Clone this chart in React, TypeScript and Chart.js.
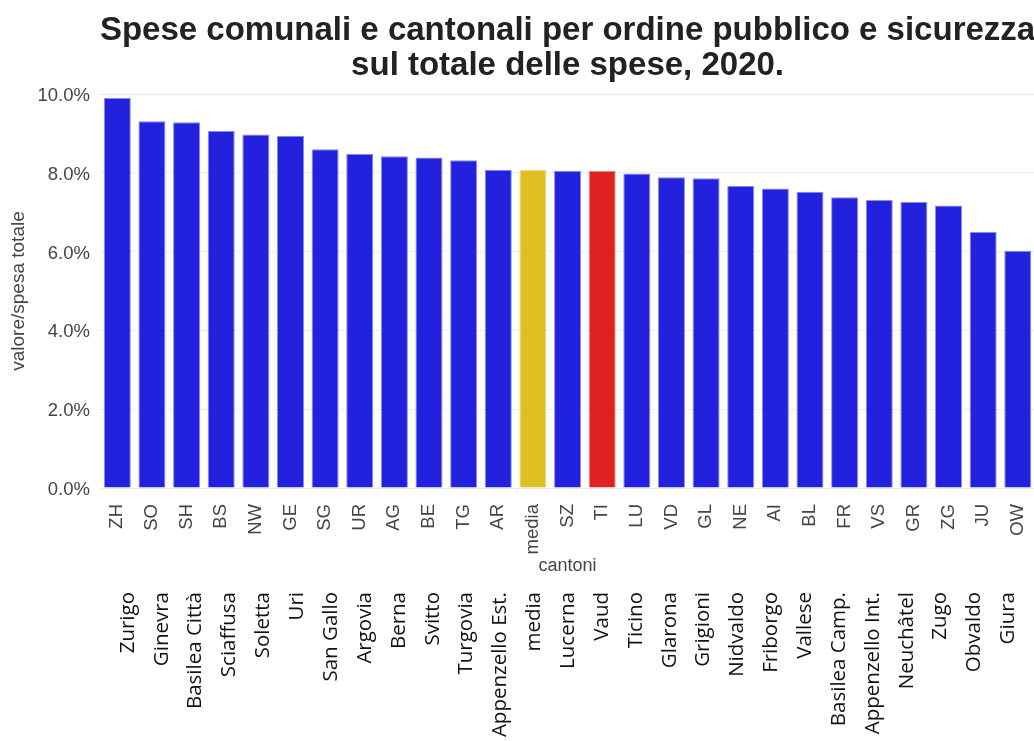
import React, { useEffect, useRef } from 'react';
import { Chart, registerables } from 'chart.js';

Chart.register(...registerables);

const titleLines = [
  'Spese comunali e cantonali per ordine pubblico e sicurezza',
  'sul totale delle spese, 2020.',
];

const codes = ['ZH', 'SO', 'SH', 'BS', 'NW', 'GE', 'SG', 'UR', 'AG', 'BE', 'TG', 'AR', 'media', 'SZ', 'TI', 'LU', 'VD', 'GL', 'NE', 'AI', 'BL', 'FR', 'VS', 'GR', 'ZG', 'JU', 'OW'];

const values = [9.90, 9.31, 9.28, 9.06, 8.97, 8.94, 8.60, 8.48, 8.42, 8.39, 8.32, 8.08, 8.07, 8.05, 8.05, 7.98, 7.89, 7.86, 7.67, 7.60, 7.52, 7.38, 7.31, 7.26, 7.17, 6.50, 6.02];

const fullNames = ['Zurigo', 'Ginevra', 'Basilea Città', 'Sciaffusa', 'Soletta', 'Uri', 'San Gallo', 'Argovia', 'Berna', 'Svitto', 'Turgovia', 'Appenzello Est.', 'media', 'Lucerna', 'Vaud', 'Ticino', 'Glarona', 'Grigioni', 'Nidvaldo', 'Friborgo', 'Vallese', 'Basilea Camp.', 'Appenzello Int.', 'Neuchâtel', 'Zugo', 'Obvaldo', 'Giura'];

const yTicks = [0, 2, 4, 6, 8, 10];

const xTitle = 'cantoni';
const yTitle = 'valore/spesa totale';

const BLUE = '#2121de';
const YELLOW = '#dfc021';
const RED = '#df2121';
const SANS = "'Liberation Sans', Arial, sans-serif";
const NAMES_FONT = "'Open Sans', 'Noto Sans', sans-serif";

const barColors = codes.map((c) => (c === 'media' ? YELLOW : c === 'TI' ? RED : BLUE));
const barBorders = codes.map((c) => (c === 'media' ? '#ecd98a' : c === 'TI' ? '#ec8a8a' : '#8a8aec'));

const centeredTitle = {
  id: 'centeredTitle',
  afterDraw(chart: any) {
    const { ctx, chartArea } = chart;
    const cx = (chartArea.left + chartArea.right) / 2;
    ctx.save();
    ctx.font = `bold 33px ${SANS}`;
    ctx.fillStyle = '#222';
    ctx.textAlign = 'center';
    ctx.textBaseline = 'alphabetic';
    titleLines.forEach((t, i) => ctx.fillText(t, cx, 40 + i * 35));
    ctx.restore();
  },
};

export default function App() {
  const mainRef = useRef<HTMLCanvasElement>(null);
  const namesRef = useRef<HTMLCanvasElement>(null);

  useEffect(() => {
    const main = new Chart(mainRef.current as HTMLCanvasElement, {
      type: 'bar',
      data: {
        labels: codes,
        datasets: [
          {
            data: values,
            backgroundColor: barColors,
            borderColor: barBorders,
            borderWidth: 1,
            barPercentage: 0.78,
            categoryPercentage: 1,
          },
        ],
      },
      options: {
        animation: false,
        responsive: false,
        maintainAspectRatio: false,
        layout: { padding: { top: 94, left: 0, right: 0, bottom: 0 } },
        plugins: {
          legend: { display: false },
          title: { display: false },
          tooltip: { enabled: false },
        },
        scales: {
          x: {
            offset: true,
            grid: { display: false },
            border: { display: false },
            ticks: {
              autoSkip: false,
              minRotation: 90,
              maxRotation: 90,
              color: '#444',
              padding: 8,
              font: { size: 18.5, family: SANS },
            },
            title: {
              display: true,
              text: xTitle,
              color: '#444',
              padding: { top: 0, bottom: 3 },
              font: { size: 18, family: SANS },
            },
            afterFit: (s: any) => {
              s.height = 92;
            },
          },
          y: {
            min: 0,
            max: 10,
            afterBuildTicks: (s: any) => {
              s.ticks = yTicks.map((v) => ({ value: v }));
            },
            ticks: {
              color: '#444',
              padding: 10,
              labelOffset: 2,
              font: { size: 18.5, family: SANS },
              callback: (v: any) => `${Number(v).toFixed(1)}%`,
            },
            grid: { color: '#ececec', drawTicks: false },
            border: { display: false },
            title: {
              display: true,
              text: yTitle,
              color: '#444',
              padding: { top: 7, bottom: 0 },
              font: { size: 19, family: SANS },
            },
            afterFit: (s: any) => {
              s.width = 100;
            },
          },
        },
      },
      plugins: [centeredTitle],
    });

    const names = new Chart(namesRef.current as HTMLCanvasElement, {
      type: 'bar',
      data: { labels: fullNames, datasets: [] },
      options: {
        animation: false,
        responsive: false,
        maintainAspectRatio: false,
        layout: { padding: { top: 0, left: 111, right: 4, bottom: 0 } },
        plugins: {
          legend: { display: false },
          title: { display: false },
          tooltip: { enabled: false },
        },
        scales: {
          x: {
            offset: true,
            grid: { display: false },
            border: { display: false },
            ticks: {
              autoSkip: false,
              minRotation: 90,
              maxRotation: 90,
              color: '#111',
              padding: 1,
              font: { size: 20.5, family: NAMES_FONT },
            },
            afterFit: (s: any) => {
              s.height = 158;
            },
          },
          y: { display: false },
        },
      },
    });

    return () => {
      main.destroy();
      names.destroy();
    };
  }, []);

  return (
    <div
      style={{
        position: 'fixed',
        left: 0,
        top: 0,
        width: 1034,
        height: 741,
        overflow: 'hidden',
        background: '#fff',
      }}
    >
      <canvas
        ref={mainRef}
        width={1048}
        height={580}
        style={{ position: 'absolute', left: 0, top: 0, width: 1048, height: 580 }}
      />
      <canvas
        ref={namesRef}
        width={1034}
        height={163}
        style={{ position: 'absolute', left: 0, top: 578, width: 1034, height: 163 }}
      />
    </div>
  );
}
